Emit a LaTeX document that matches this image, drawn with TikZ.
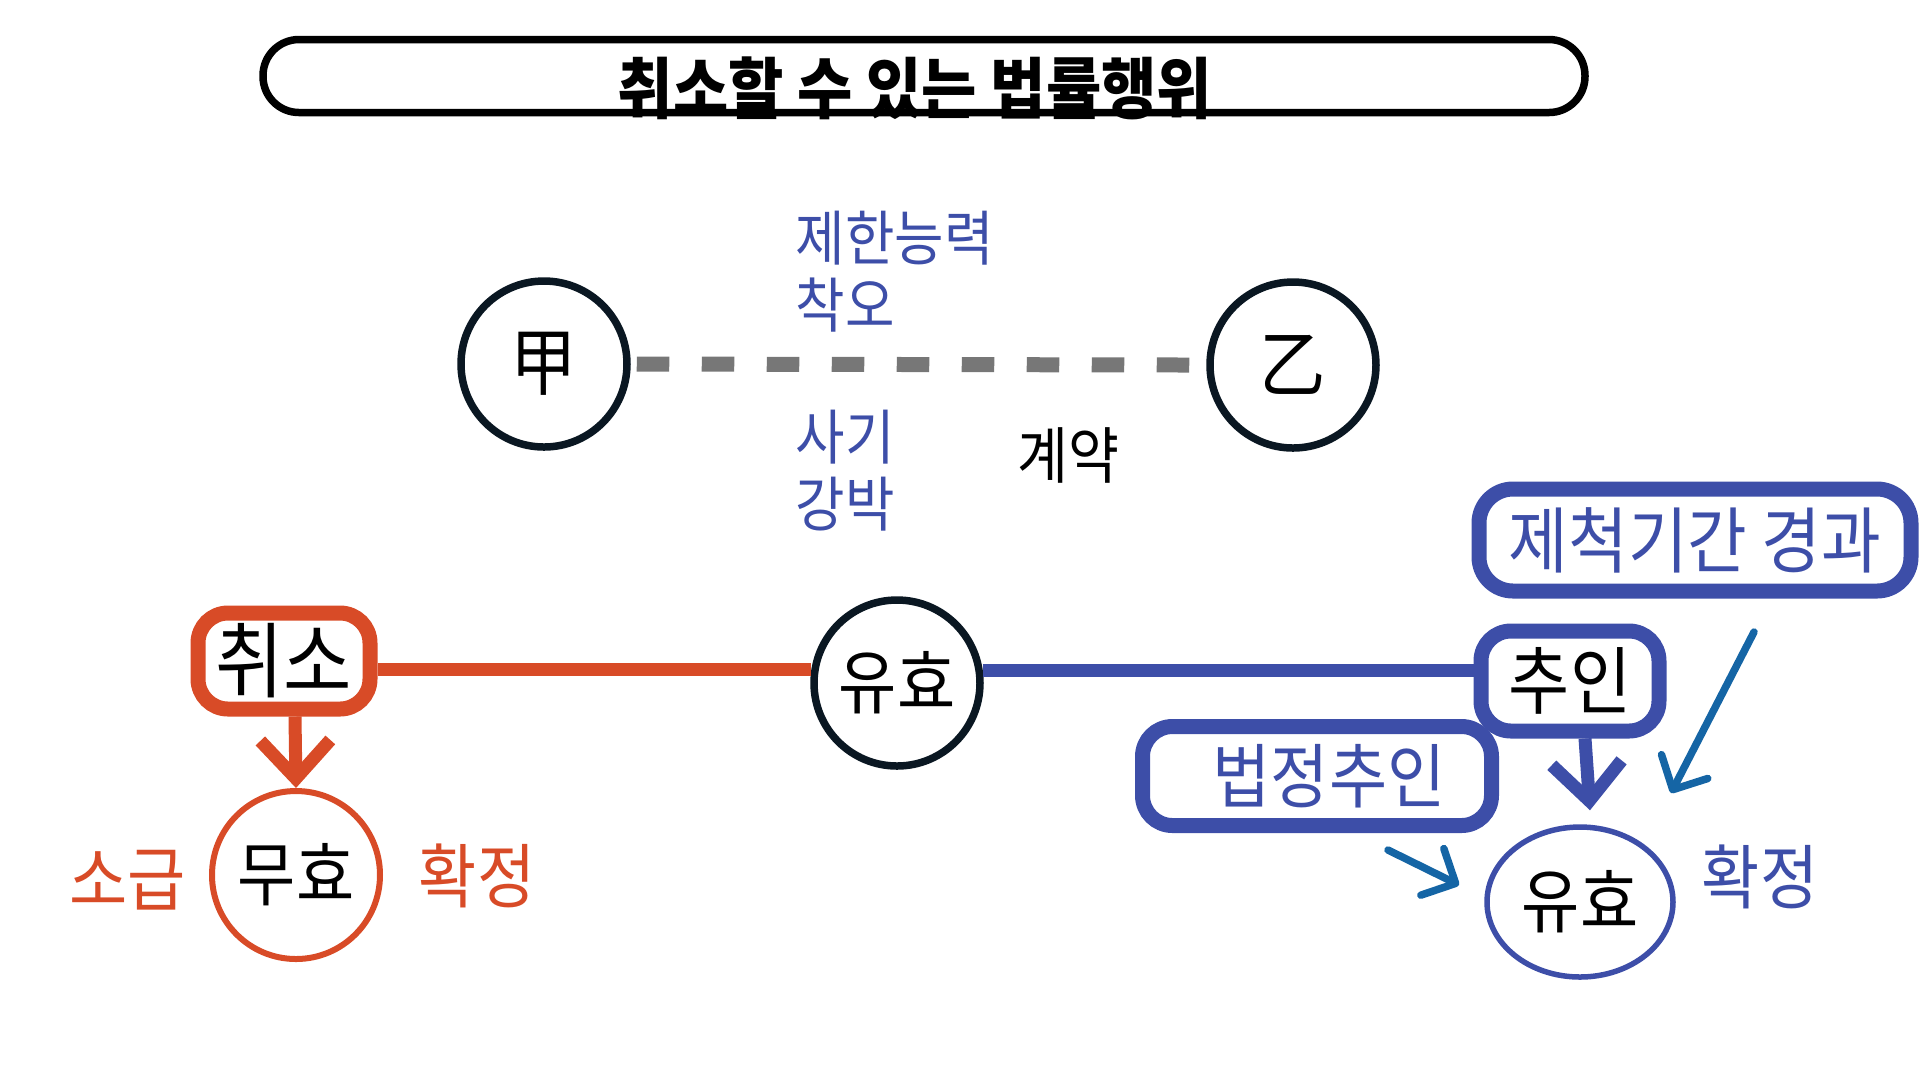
\documentclass[tikz,border=0pt]{standalone}
\usepackage{fontspec}
\setmainfont{Noto Sans CJK KR}[FakeStretch=0.9]
\usetikzlibrary{arrows.meta,shapes.geometric}

\definecolor{rouge}{RGB}{216,75,39}
\definecolor{bleu}{RGB}{61,78,168}
\definecolor{bleufleche}{RGB}{21,101,165}
\definecolor{encre}{RGB}{10,23,34}
\definecolor{grisfonce}{RGB}{119,119,119}

\newcommand{\taille}[1]{\fontsize{#1}{#1}\selectfont}

\begin{document}
\begin{tikzpicture}[x=0.1mm, y=-0.1mm, >={Straight Barb[length=3.8mm, width=7mm]},
  rond/.style={circle, draw=encre, line width=0.75mm, minimum size=16.6mm, inner sep=0pt, font=\taille{20}},
  boite/.style={draw=bleu, rounded corners=3mm, line width=1.5mm, inner sep=0pt, font=\taille{20.5}},
  texte/.style={inner sep=0pt, font=\taille{17}},
  trait/.style={line width=1.3mm},
  fleche/.style={bleufleche, line width=0.75mm, line cap=round, -{Straight Barb[round, length=2.6mm, width=5.2mm]}}]

  \useasboundingbox (0,0) rectangle (1920,1080);

  % ==========================================
  % TITRE
  % ==========================================
  \node[draw=black, line width=0.75mm, rounded corners=3.6mm, minimum width=132.2mm, minimum height=7.3mm] (cadre) at (924,76) {};
  \node[anchor=base, inner sep=0pt, font=\bfseries\taille{19}] (titre) at (915,113) {취소할 수 있는 법률행위};

  % ==========================================
  % PARTIES ET CONTRAT (EN HAUT)
  % ==========================================
  \node[rond, font=\taille{21}] (gap) at (544,364) {甲};
  \node[rond, font=\taille{21}] (eul) at (1293,365) {乙};

  % Contrat en pointillés entre les deux parties
  \draw[grisfonce, line width=1.5mm, dash pattern=on 3.25mm off 3.25mm] ([xshift=0.6mm]gap.east) -- ([xshift=-1.7mm]eul.west);

  % Causes d'annulation
  \node[texte, anchor=west, text=bleu] (jehan) at (795,238) {제한능력};
  \node[texte, anchor=west, text=bleu] (chago) at (795,305) {착오};
  \node[texte, anchor=west, text=bleu] (sagi) at (795,437) {사기};
  \node[texte, anchor=west, text=bleu] (gangbak) at (795,504) {강박};
  \node[texte, font=\taille{17.5}] (gyeyak) at (1068,455) {계약};

  % ==========================================
  % ANNULATION (À GAUCHE)
  % ==========================================
  \node[boite, draw=rouge, minimum width=17.2mm, minimum height=9.6mm, font=\taille{23.5}] (chwiso) at (284,661) {취소};
  \node[rond] (yuhyo) at (897,683) {유효};
  \draw[rouge, trait] (chwiso.east |- yuhyo.171) -- (yuhyo.171);

  % Nullité rétroactive
  \node[circle, draw=rouge, line width=0.6mm, minimum size=16.8mm, inner sep=0pt, font=\taille{20}] (muhyo) at (296,875) {무효};
  \draw[rouge, trait, ->] ([xshift=1.1mm]chwiso.south) -- (muhyo.north);
  \node[texte, font=\taille{20}, text=rouge] (sogeup) at (128,880) {소급};
  \node[texte, font=\taille{20}, text=rouge] (hwakjeong1) at (477,876) {확정};

  % ==========================================
  % CONFIRMATION (À DROITE)
  % ==========================================
  \node[boite, minimum width=17.8mm, minimum height=10mm, font=\taille{21}] (chuin) at (1570,681) {추인};
  \draw[bleu, trait] (yuhyo.8) -- (chuin.west |- yuhyo.8);

  \node[boite, text=bleu, minimum width=43.2mm, minimum height=10.2mm, rounded corners=3.4mm] (jecheok) at (1695,540) {제척기간 경과};
  \node[boite, text=bleu, minimum width=34.9mm, minimum height=9.9mm, font=\taille{20}] (beopjeong) at (1317,776) {\hspace{2.4mm}법정추인};

  % Validité définitive
  \node[ellipse, draw=bleu, line width=0.55mm, minimum width=18.6mm, minimum height=15mm, inner sep=0pt, font=\taille{20}] (yuhyo2) at (1580,902) {유효};
  \draw[bleu, trait, ->] ([xshift=1.5mm]chuin.south) -- ([xshift=1mm, yshift=1.4mm]yuhyo2.north);
  \node[texte, font=\taille{20}, text=bleu] (hwakjeong2) at (1760,877) {확정};

  % Flèches fines vers le résultat
  \coordinate (depart1) at (1754,632);
  \coordinate (arrivee1) at (1671,793);
  \coordinate (depart2) at (1388,850);
  \coordinate (arrivee2) at (1459,885);
  \draw[fleche] (depart1) -- (arrivee1);
  \draw[fleche] (depart2) -- (arrivee2);

\end{tikzpicture}
\end{document}
